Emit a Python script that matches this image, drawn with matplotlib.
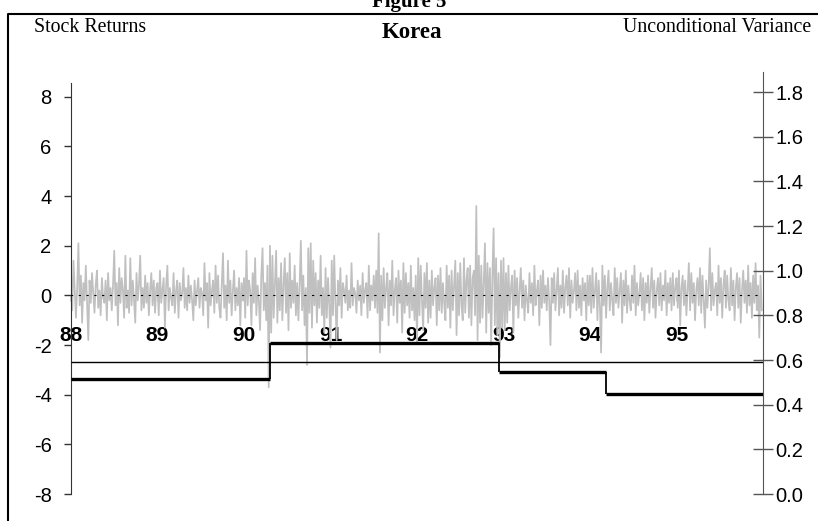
import numpy as np
import matplotlib
matplotlib.use("Agg")
import matplotlib.pyplot as plt
from matplotlib.lines import Line2D

plt.rcParams['axes.unicode_minus'] = False

# Korean stock returns, one list per year
r88 = [0.9, -0.6, 1.4, 0.2, -0.9, 0.3, 2.1, -0.4, 0.8, -1.1, 0.5, -0.2, 1.2, -0.3, -1.8, 0.6, -0.3, 0.9, 0.1, -0.7,
       0.4, 1.0, -0.5, 0.2, -0.8, 0.7, -0.1, -0.3, 0.6, -1.0, 0.9, -0.2, 0.3, -0.6, 0.4, 1.8, -0.4, 0.5, -1.2, 1.1,
       -0.3, 0.7, 0.2, -0.9, 1.6, -0.5, 0.2, -0.7, 1.5, -0.4, 0.6, -0.2, -1.1, 0.9, -0.2, 0.4, 1.6, -0.6, 0.3, -0.5,
       0.8, -0.3, 0.5, -0.8, 0.2, 0.9, -0.4, 0.6, -0.7, 0.3]
r89 = [0.5, -0.8, 1.0, -0.3, 0.2, 0.7, -1.3, 0.4, 1.2, -0.6, 0.3, -0.1, -0.4, 0.9, -0.7, 0.2, 0.6, -0.9, 0.5, -0.2,
       0.1, 1.1, -0.5, 0.3, -0.6, 0.8, -0.3, 0.4, -0.2, -1.0, 0.6, -0.4, 0.2, 0.7, -0.5, 0.3, 0.1, -0.8, 1.3, -0.2,
       0.5, -1.3, 0.9, -0.4, 0.2, 0.6, -0.7, 1.2, -0.3, 0.8, -0.5, -0.9, 0.4, 1.7, -0.5, 0.4, -1.0, 1.4, -0.3, 0.6,
       -0.8, 0.2, 1.0, -0.6, 0.3, -0.4, 0.7, -1.2, 0.5, -0.2]
r90 = [0.7, -0.9, 1.8, -0.4, 0.6, 0.2, -1.2, 0.9, -0.3, 1.5, -0.8, 0.4, -0.2, -1.4, 0.8, 1.9, -0.6, 0.5, -1.0, 1.2,
       -3.7, 2.0, -1.5, 1.6, -0.9, 0.5, 1.8, -1.1, 0.7, -0.6, 1.3, -1.0, 0.4, 1.5, -0.7, 0.9, -1.4, 1.7, -0.5, 0.6,
       -0.3, 1.2, -0.8, 0.5, -1.0, 0.4, 2.2, -0.6, 0.8, -1.2, 0.3, -2.8, 1.9, -0.7, 2.1, -1.3, 1.4, -0.4, 0.9, -1.1,
       0.6, -0.5, 1.6, -0.8, 0.3, -1.5, 1.1, -0.9, 0.7, -0.4]
r91 = [-2.1, 1.4, -0.8, 1.6, -0.3, -1.8, 0.6, -0.4, 1.1, -0.9, 0.5, 0.2, -0.3, 0.8, -0.6, 0.2, -0.5, 1.3, -0.4, 0.3,
       0.1, -0.7, 0.6, -0.2, 0.4, -0.8, 0.9, -0.3, 0.2, 0.5, -0.9, 1.2, -0.6, 0.4, -0.2, 0.8, -0.5, 1.0, -0.7, 2.5,
       -2.3, 0.8, -1.0, 1.1, -0.5, 0.3, 0.9, -1.2, 0.6, -0.4, 1.4, -0.8, 0.2, 0.7, -1.1, 1.0, -0.3, 0.6, -1.5, 1.3,
       -0.7, 0.9, -0.4, 0.5, -0.9, 1.2, -0.6, 0.3, -1.0, 0.8]
r92 = [-1.9, 1.5, -0.8, 1.2, -0.2, -1.4, 0.9, -0.5, 1.3, -1.1, 0.6, -0.9, 1.0, -0.4, 0.3, 0.7, -1.2, 0.8, -0.6, 1.1,
       -0.7, 0.5, -0.3, -1.0, 1.2, -0.5, 0.8, -1.3, 1.0, -0.6, 0.4, 1.4, -1.6, 0.9, -0.8, 1.3, -0.4, -1.0, 1.5, -0.7,
       0.6, 1.1, -0.9, 1.2, -1.2, 0.7, 1.0, -0.8, 3.6, -1.8, 1.6, -1.1, 1.2, -0.9, 0.5, 2.1, -1.5, 1.3, -0.7, 1.1,
       -2.0, 0.8, 2.7, -1.2, 1.5, -1.6, 0.9, -2.5, 1.4, -1.3]
r93 = [1.5, -1.4, 0.9, -1.1, 1.2, -0.6, 0.3, 0.8, -1.5, 1.0, -0.4, 0.7, -0.9, 0.2, 1.1, -0.5, 0.6, -1.0, 0.4, -0.2,
       -0.7, 0.9, -0.3, 0.5, -0.8, 1.2, -0.4, 0.2, 0.6, -1.2, 0.8, -0.5, 1.0, -0.3, 0.4, -0.6, 0.7, -0.2, -2.0, 0.7,
       -0.3, 0.9, -0.6, 0.2, 1.1, -0.8, 0.4, -0.5, 1.0, -0.7, 0.3, 0.8, -0.4, 1.1, -0.9, 0.6, -0.3, 0.2, 0.9, -0.6,
       1.0, -0.5, 0.4, -0.8, 0.7, -0.2, 0.5, -1.0, 0.8, -0.4]
r94 = [0.8, -0.7, 1.1, -0.5, 0.2, 0.9, -1.0, 0.6, -0.4, -2.3, 1.2, -0.4, 0.8, -0.9, 0.3, 1.0, -0.6, 0.5, -0.2, -0.8,
       1.1, -0.3, 0.7, -0.5, 0.2, 0.9, -1.1, 0.6, -0.4, 1.0, -0.7, 0.4, -0.2, -0.6, 0.8, -0.3, 1.2, -0.8, 0.5, -0.4,
       0.1, 0.9, -0.6, 0.7, -1.0, 0.5, -0.3, 0.8, -0.7, 0.3, 1.1, -0.5, 0.6, -0.9, 0.2, 0.7, -0.4, 0.9, -0.6, 0.4,
       -0.2, 1.0, -0.8, 0.5, -0.3, 0.7, -0.6, 0.9, -0.4, 0.3]
r95 = [0.7, -0.5, 1.0, -1.2, 0.3, 0.8, -0.4, 0.6, -0.8, 0.2, 1.3, -0.6, 0.9, -0.3, 0.5, -1.0, 0.2, 0.7, -0.4, 1.1,
       -0.7, 0.8, -0.2, -1.3, 0.6, -0.5, 0.4, 1.9, -0.6, 0.9, -0.4, 0.2, 0.5, -0.8, 1.2, -0.3, 0.7, -0.9, 0.4, 1.0,
       -0.5, 0.8, -0.2, -0.6, 1.1, -0.4, 0.6, -1.0, 0.3, 0.9, -0.5, 0.7, -1.1, 0.2, 1.0, -0.3, 0.6, -0.7, 1.2, -0.4,
       0.5, -0.9, 0.8, -0.3, 1.3, -0.6, 0.4, -1.7, 0.8, -0.6]

years = [1988, 1989, 1990, 1991, 1992, 1993, 1994, 1995]
year_labels = ['88', '89', '90', '91', '92', '93', '94', '95']

# unconditional variance regimes (right axis)
break_dates = [1988.0, 1990.30, 1992.95, 1994.18, 1996.0]
regime_var = [0.515, 0.675, 0.548, 0.447]
overall_var = 0.59

yearly = [r88, r89, r90, r91, r92, r93, r94, r95]
t = np.concatenate([y + np.arange(len(r)) / len(r) for y, r in zip(years, yearly)])
returns = np.concatenate(yearly)

fig = plt.figure(figsize=(8.18, 5.21), dpi=100)
ax = fig.add_axes([71 / 818, 27 / 521, 692 / 818, 422 / 521])
ax2 = ax.twinx()

ax.plot(t, returns, color='#c0c0c0', lw=1.25, zorder=2)
ax.set_xlim(1988, 1996)
ax.set_ylim(-8, 9.0)
ax.set_yticks(range(-8, 9, 2))
ax.tick_params(axis='y', direction='out', length=5, width=1, colors='#333333',
               labelsize=14.5, labelcolor='black', pad=9)
for lab in ax.get_yticklabels():
    lab.set_fontfamily('Liberation Sans')

ax.spines['top'].set_visible(False)
ax.spines['right'].set_visible(False)
ax.spines['left'].set_bounds(-8, 8.55)
ax.spines['left'].set_color('#333333')
ax.spines['bottom'].set_position(('data', 0))
ax.spines['bottom'].set_linestyle((0, (1, 6)))
ax.spines['bottom'].set_color('black')
ax.set_xticks(years)
ax.set_xticklabels(year_labels, fontfamily='Liberation Sans', fontweight='bold', fontsize=15)
ax.tick_params(axis='x', direction='out', length=4, width=1, pad=18)

# right axis: variance
for i, v in enumerate(regime_var):
    ax2.hlines(v, break_dates[i], break_dates[i + 1], color='black', lw=2.4)
for i in range(1, len(regime_var)):
    ax2.vlines(break_dates[i], regime_var[i - 1], regime_var[i], color='black', lw=1.3)
ax2.hlines(overall_var, 1988, 1996, color='black', lw=1.0)
ax2.set_ylim(0, 1.89)
ax2.set_yticks(np.arange(0, 1.81, 0.2))
ax2.set_yticklabels([f'{v:.1f}' for v in np.arange(0, 1.81, 0.2)],
                    fontfamily='Liberation Sans', fontsize=14.5)
ax2.tick_params(axis='y', direction='inout', length=14, width=1, colors='#555555',
                labelcolor='black', pad=2)
for s in ['top', 'left', 'bottom']:
    ax2.spines[s].set_visible(False)
ax2.spines['right'].set_color('#555555')

# texts
fig.text(34 / 818, 1 - 28 / 521, 'Stock Returns', family='Liberation Serif', fontsize=14.3,
         ha='left', va='center')
fig.text(412 / 818, 1 - 32 / 521, 'Korea', family='Liberation Serif', fontsize=16.5,
         fontweight='bold', ha='center', va='center')
fig.text(811 / 818, 1 - 28 / 521, 'Unconditional Variance', family='Liberation Serif',
         fontsize=14.3, ha='right', va='center')
fig.text(409 / 818, 1 - 7 / 521, 'Figure 5', family='Liberation Serif', fontsize=15,
         fontweight='bold', ha='center', va='baseline')

# outer frame (left and top edges visible)
fig.add_artist(Line2D([8 / 818, 8 / 818, 1.0], [0, 1 - 14 / 521, 1 - 14 / 521],
                      transform=fig.transFigure, color='black', lw=1.5))

fig.savefig('out.png', dpi=100)
